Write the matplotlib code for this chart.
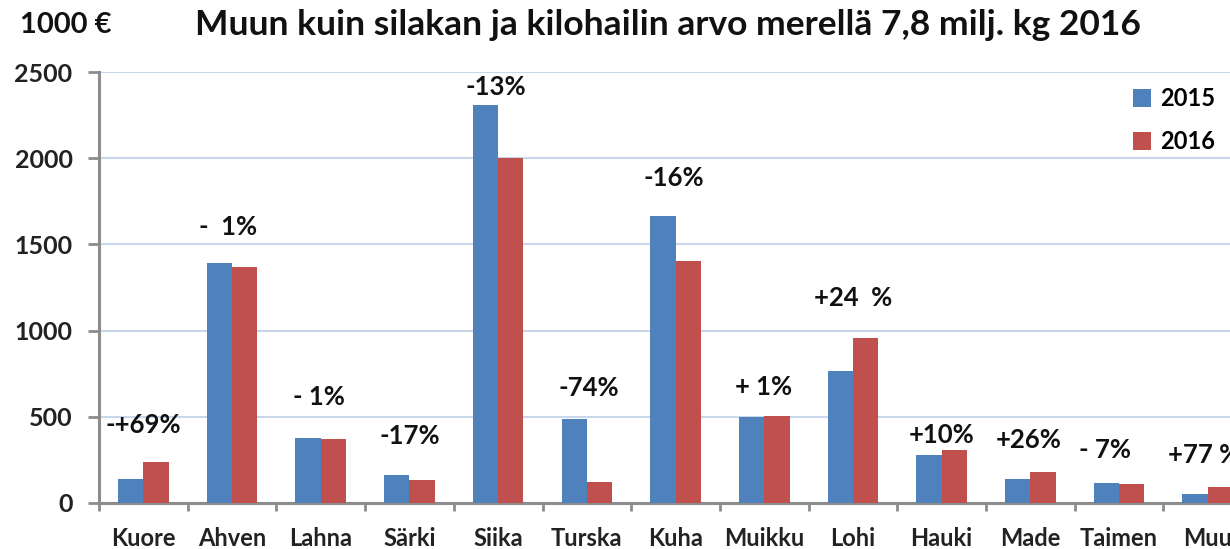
import numpy as np
import matplotlib
matplotlib.use("Agg")
import matplotlib.pyplot as plt

plt.rcParams['font.family'] = ['Lato', 'DejaVu Sans']
plt.rcParams['font.weight'] = 'bold'

species = ["Kuore", "Ahven", "Lahna", "Särki", "Siika", "Turska", "Kuha",
           "Muikku", "Lohi", "Hauki", "Made", "Taimen", "Muu"]
v2015 = [140, 1390, 375, 160, 2310, 487, 1665, 500, 765, 278, 140, 116, 52]
v2016 = [238, 1370, 370, 133, 2000, 122, 1404, 505, 957, 307, 180, 110, 93]
changes = ["-+69%", "-  1%", "- 1%", "-17%", "-13%", "-74%", "-16%",
           "+ 1%", "+24  %", "+10%", "+26%", "- 7%", "+77 %"]
# label offset above the taller bar, in pixels
label_dy = [37, 36, 41, 39, 18, 31, 38, 29, 40, 15, 32, 33, 32]
label_dx = [0, -4, -2, 0, -2, 2, -2, -1, 0, 0, -2, -14, -4]

blue = "#4F81BD"
red = "#C0504D"
axis_gray = "#8C8C8C"

fig = plt.figure(figsize=(12.3, 5.49), dpi=100)
ax = fig.add_axes([99 / 1230, 46 / 549, 13 * 88.7 / 1230, 431 / 549])

x = np.arange(len(species))
w = 0.285
ax.bar(x - w / 2, v2015, w, color=blue, label="2015", zorder=3)
ax.bar(x + w / 2, v2016, w, color=red, label="2016", zorder=3)

ax.set_xlim(-0.5, len(species) - 0.5)
ax.set_ylim(0, 2500)
ax.set_yticks(np.arange(0, 2501, 500))
ax.yaxis.grid(True, color="#C9D7EC", linewidth=1.5, zorder=0)
ax.set_axisbelow(True)

for s in ["top", "right"]:
    ax.spines[s].set_visible(False)
for s in ["left", "bottom"]:
    ax.spines[s].set_color(axis_gray)
    ax.spines[s].set_linewidth(2.2)

ax.set_xticks(x)
ax.set_xticklabels(species, fontsize=17, fontweight='bold', color="#222222")
ax.set_xticks(np.arange(-0.5, len(species), 1.0), minor=True)
ax.tick_params(axis='x', which='major', length=0, pad=17)
ax.tick_params(axis='x', which='minor', length=6, width=2, color=axis_gray,
               direction='out')
ax.tick_params(axis='y', length=8, width=2, color=axis_gray, labelsize=18,
               pad=11, labelcolor="#222222")
for t in ax.get_yticklabels():
    t.set_fontweight('bold')

for i, lab in enumerate(changes):
    top = max(v2015[i], v2016[i])
    ax.annotate(lab, (x[i], top), xytext=(label_dx[i], label_dy[i]),
                textcoords='offset pixels', ha='center', va='center',
                fontsize=18.5, fontweight='bold', color="#111111")

fig.legend(loc='upper left', bbox_to_anchor=(1112 / 1230, 1 - 66 / 549),
           frameon=False, handlelength=0.75, handleheight=0.75,
           labelspacing=0.85, handletextpad=0.4, prop={'weight': 'bold', 'size': 17})

fig.text(20 / 1230, 1 - 25 / 549, "1000 €", fontsize=21, fontweight='bold',
         ha='left', va='center', color="#111111")
fig.text(668 / 1230, 1 - 25 / 549,
         "Muun kuin silakan ja kilohailin arvo merellä 7,8 milj. kg 2016",
         fontsize=25.5, fontweight='bold', ha='center', va='center', color="#111111")

fig.savefig("out.png", dpi=100)
